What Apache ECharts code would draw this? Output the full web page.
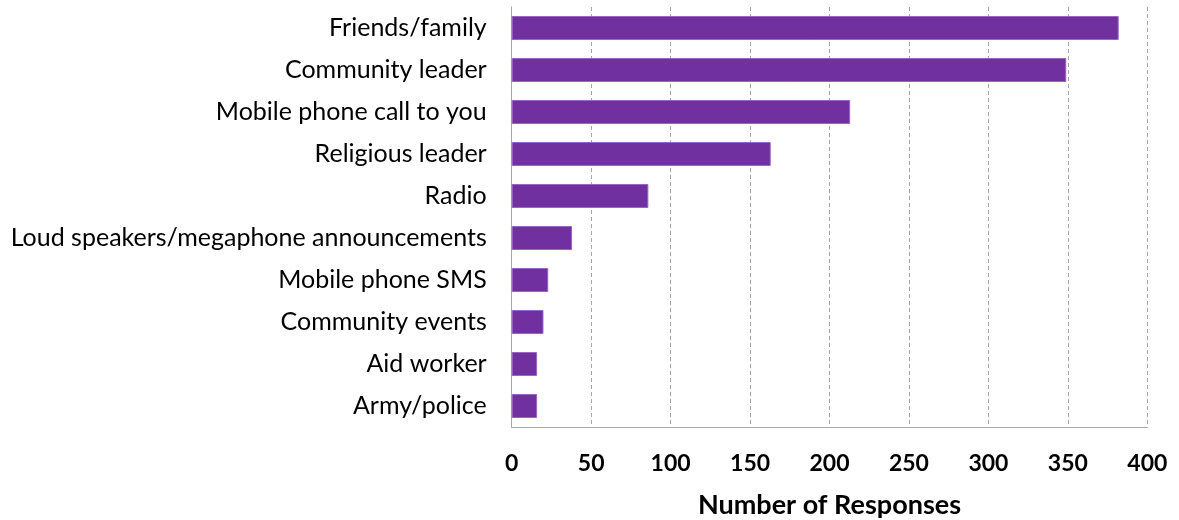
<!DOCTYPE html>
<html><head><meta charset="utf-8">
<script src="https://cdn.jsdelivr.net/npm/echarts@6/dist/echarts.min.js"></script>
<style>html,body{margin:0;padding:0;background:#fff}#c{width:1179px;height:520px}</style>
</head><body><div id="c"></div>
<script>
const categories = ["Friends/family","Community leader","Mobile phone call to you","Religious leader","Radio","Loud speakers/megaphone announcements","Mobile phone SMS","Community events","Aid worker","Army/police"];
const responses = [382, 349, 213, 163, 86, 38, 23, 20, 16, 16];
const xTicks = [0, 50, 100, 150, 200, 250, 300, 350, 400];
const axisTitle = "Number of Responses";

const chart = echarts.init(document.getElementById('c'));
chart.setOption({
  animation: false,
  grid: {left: 511.7, right: 31.7, top: 7, bottom: 93, containLabel: false, outerBoundsMode: 'none'},
  xAxis: {
    type: 'value', min: xTicks[0], max: xTicks[xTicks.length-1], interval: 50,
    name: axisTitle, nameLocation: 'middle', nameGap: 65,
    nameTextStyle: {fontFamily: 'Lato', fontWeight: 'bold', fontSize: 27, color: '#000'},
    axisLine: {show: true, lineStyle: {color: '#a6a6a6', width: 1}},
    axisTick: {show: false},
    axisLabel: {fontFamily: 'Lato', fontWeight: 'bold', fontSize: 23, color: '#000', margin: 25},
    splitLine: {show: true, lineStyle: {color: '#a6a6a6', type: [4, 3], width: 1}}
  },
  yAxis: {
    type: 'category', data: categories, inverse: true,
    axisLine: {show: true, lineStyle: {color: '#a6a6a6', width: 1}},
    axisTick: {show: false},
    axisLabel: {fontFamily: 'Lato', fontSize: 25, color: '#000', margin: 25}
  },
  series: [{
    type: 'bar', data: responses, barWidth: '57%',
    itemStyle: {color: '#7030a0', borderColor: '#9966c2', borderWidth: 1}
  }]
});
</script></body></html>
